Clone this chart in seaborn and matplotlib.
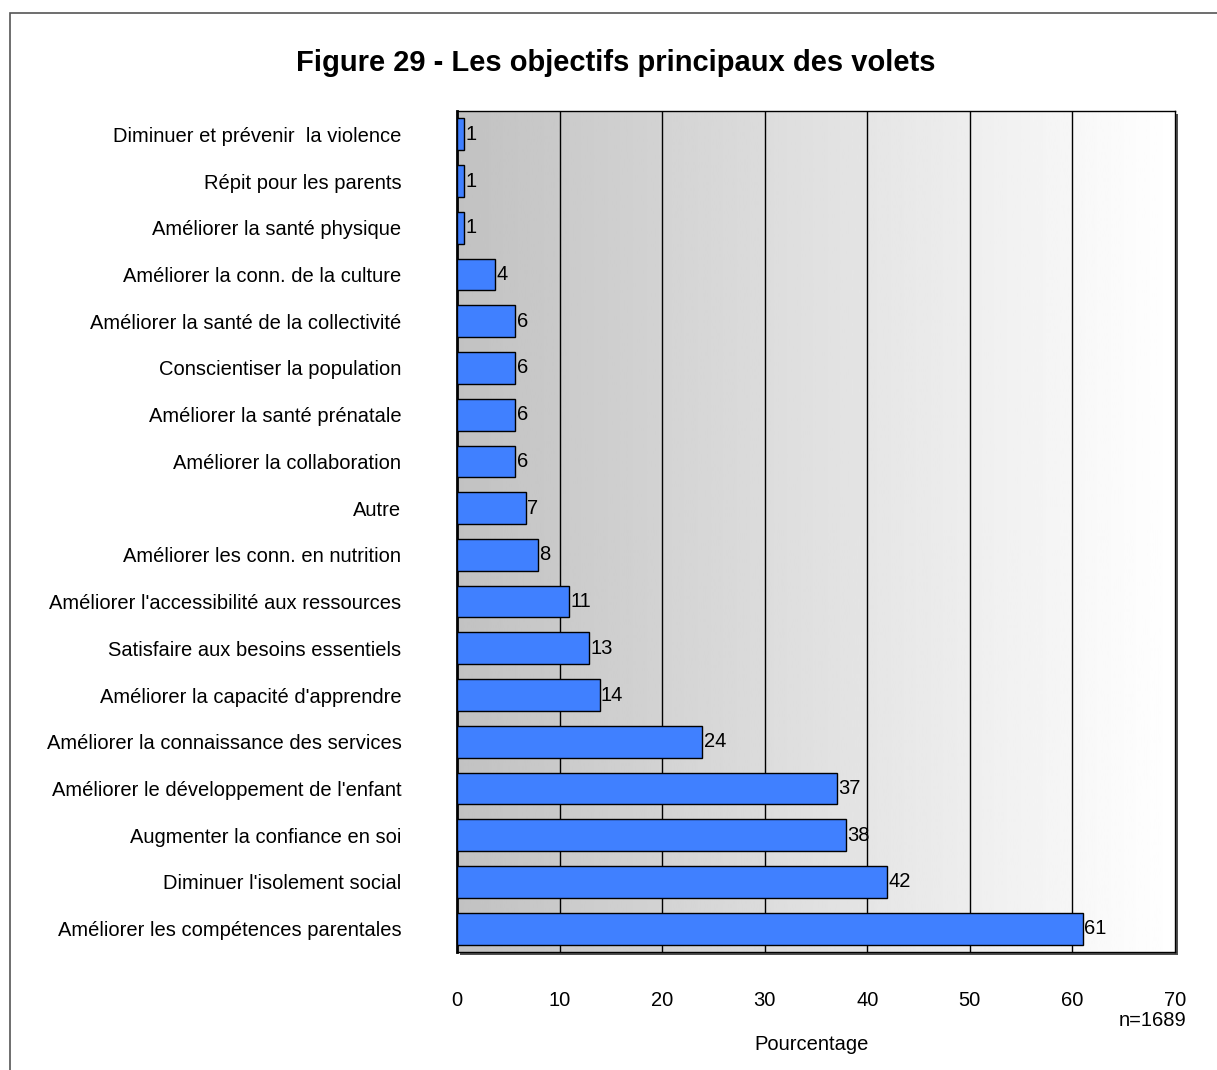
import matplotlib
matplotlib.use('Agg')
import matplotlib.pyplot as plt
import seaborn as sns
import numpy as np
import pandas as pd
from matplotlib.patches import Rectangle

# Données (ordre du haut vers le bas)
objectifs = [
    "Diminuer et prévenir  la violence",
    "Répit pour les parents",
    "Améliorer la santé physique",
    "Améliorer la conn. de la culture",
    "Améliorer la santé de la collectivité",
    "Conscientiser la population",
    "Améliorer la santé prénatale",
    "Améliorer la collaboration",
    "Autre",
    "Améliorer les conn. en nutrition",
    "Améliorer l'accessibilité aux ressources",
    "Satisfaire aux besoins essentiels",
    "Améliorer la capacité d'apprendre",
    "Améliorer la connaissance des services",
    "Améliorer le développement de l'enfant",
    "Augmenter la confiance en soi",
    "Diminuer l'isolement social",
    "Améliorer les compétences parentales",
]
pourcentages = [0.7, 0.7, 0.7, 3.7, 5.7, 5.7, 5.7, 5.7, 6.7, 7.9,
                10.9, 12.9, 13.9, 23.9, 37.0, 37.9, 41.9, 61.0]
x_ticks = [0, 10, 20, 30, 40, 50, 60, 70]

df = pd.DataFrame({'objectif': objectifs, 'pct': pourcentages})

sns.set_style('white')
plt.rcParams['font.family'] = ['Liberation Sans', 'DejaVu Sans']
plt.rcParams['text.color'] = 'black'
plt.rcParams['xtick.color'] = 'black'
plt.rcParams['ytick.color'] = 'black'

fig = plt.figure(figsize=(12.17, 10.70), dpi=100)
ax = fig.add_axes([457 / 1217, 1 - 952 / 1070, (1175 - 457) / 1217, (952 - 111) / 1070])
ax.set_zorder(2)

# ombre du cadre
fig.patches.append(Rectangle((460 / 1217, 1 - 955 / 1070), (1175 - 457) / 1217, (952 - 111) / 1070,
                             transform=fig.transFigure, facecolor='#505050', edgecolor='none', zorder=-1))
# bordure de la figure
fig.patches.append(Rectangle((10 / 1217, -0.02), 1.1, 1 - 13 / 1070 + 0.02,
                             transform=fig.transFigure, facecolor='none', edgecolor='#555555',
                             linewidth=1.2, zorder=-1))

# fond dégradé par bandes
grad = []
for i in range(7):
    t = np.linspace(0, 1, 50)
    start = 0.76 + i * 0.035
    grad.append(start + t * 0.03)
grad = np.clip(np.concatenate(grad), 0, 1).reshape(1, -1)
ax.imshow(grad, cmap='gray', vmin=0, vmax=1, aspect='auto',
          extent=[0, 70, len(objectifs) - 0.5, -0.5], zorder=0)

sns.barplot(data=df, x='pct', y='objectif', orient='h', color='#4080FF',
            saturation=1, edgecolor='black', linewidth=1, width=0.68, ax=ax, zorder=3)

for c in ax.containers:
    ax.bar_label(c, labels=[f"{v:.0f}" for v in pourcentages], padding=1, fontsize=14.5, zorder=4)

for x in x_ticks[1:-1]:
    ax.axvline(x, color='black', linewidth=1, zorder=1)

ax.set_xlim(0, 70)
ax.set_ylim(len(objectifs) - 0.5, -0.5)
ax.set_xticks(x_ticks)
ax.tick_params(axis='x', length=0, pad=28, labelsize=14.5)
ax.tick_params(axis='y', length=0, pad=40, labelsize=14.5)
ax.set_ylabel('')
ax.set_xlabel('')
for s in ax.spines.values():
    s.set_color('black')
    s.set_linewidth(1)
ax.spines['left'].set_linewidth(2)

fig.text(616 / 1217, 1 - 63 / 1070, 'Figure 29 - Les objectifs principaux des volets',
         ha='center', va='center', fontsize=21, fontweight='bold')
fig.text(1186 / 1217, 1 - 1021 / 1070, 'n=1689', ha='right', va='center', fontsize=14.5)
fig.text(812 / 1217, 1 - 1045 / 1070, 'Pourcentage', ha='center', va='center', fontsize=14.5)

fig.savefig('out.png', dpi=100)
